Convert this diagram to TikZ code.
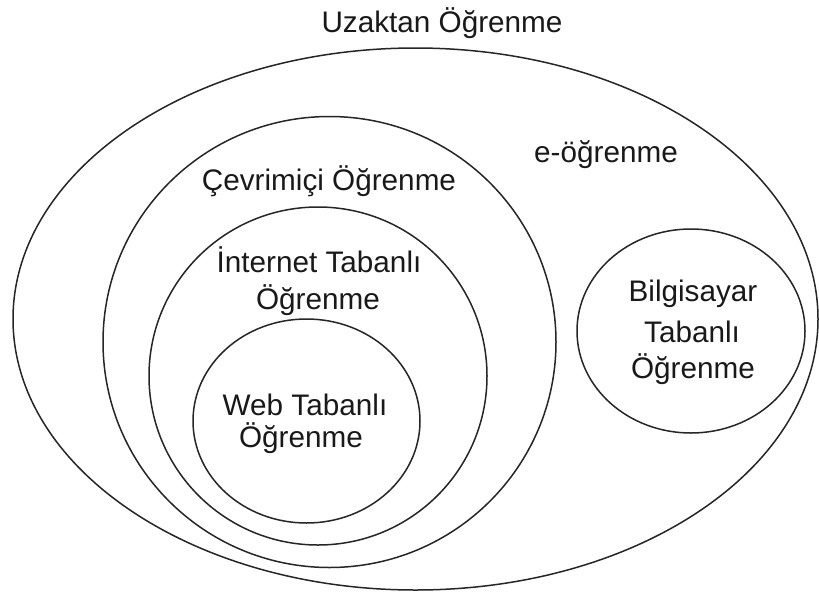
\documentclass[tikz,border=0pt]{standalone}
\usepackage{fontspec}
\setmainfont{Liberation Sans}
\usetikzlibrary{shapes.geometric}
\tikzset{
  ring/.style={draw=black!85, line width=1.5pt, ellipse, inner sep=0pt, outer sep=0pt},
  lbl/.style={anchor=base, inner sep=0pt, font=\fontsize{29.7}{34}\selectfont, text=black!90}
}
\begin{document}
\begin{tikzpicture}[x=1pt,y=-1pt]
\useasboundingbox[fill=white] (0,0) rectangle (819,595);
% ellipses
\node[ring, minimum width=805pt, minimum height=542pt] (outer) at (415.5,319) {};
\node[ring, minimum width=453pt, minimum height=451pt] (cev) at (329.5,342) {};
\node[ring, minimum width=338pt, minimum height=338pt] (inet) at (318,376) {};
\node[ring, minimum width=227pt, minimum height=204pt] (web) at (306.5,421) {};
\node[ring, minimum width=228pt, minimum height=204pt] (bilg) at (691,331) {};
% labels
\node[lbl] (tuz) at (442,32) {Uzaktan Öğrenme};
\node[lbl] (teo) at (606,162) {e-öğrenme};
\node[lbl] (tcev) at (329,190) {Çevrimiçi Öğrenme};
\node[lbl] (tin1) at (319,272) {İnternet Tabanlı};
\node[lbl] (tin2) at (318,309) {Öğrenme};
\node[lbl] (tw1) at (305,415) {Web Tabanlı};
\node[lbl] (tw2) at (301,447) {Öğrenme};
\node[lbl] (tb1) at (693,301) {Bilgisayar};
\node[lbl] (tb2) at (692,342) {Tabanlı};
\node[lbl] (tb3) at (693,378) {Öğrenme};
\end{tikzpicture}
\end{document}
